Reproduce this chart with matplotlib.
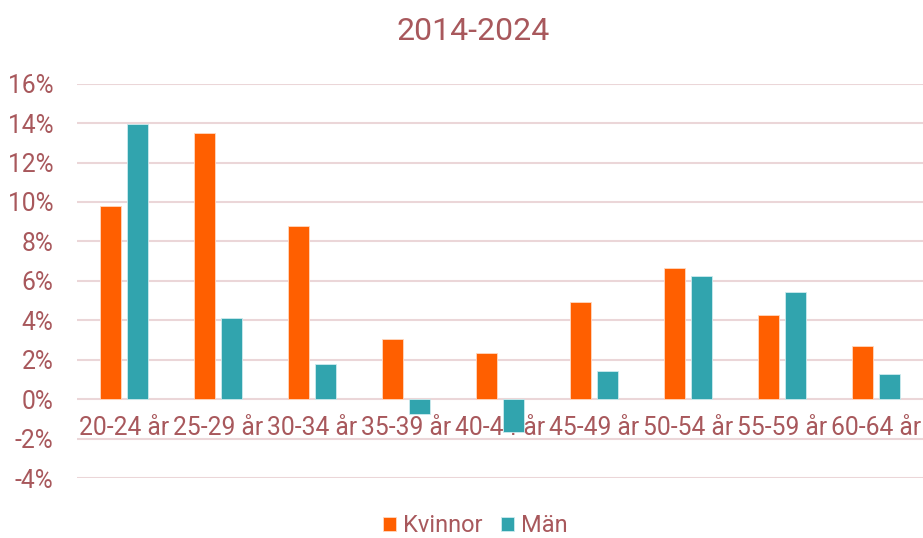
import numpy as np
import matplotlib.pyplot as plt
from matplotlib.ticker import FuncFormatter

plt.rcParams['font.family'] = ['Roboto', 'DejaVu Sans']

# age groups and change 2014-2024 (fractions)
groups = ['20-24 år', '25-29 år', '30-34 år', '35-39 år', '40-44 år',
          '45-49 år', '50-54 år', '55-59 år', '60-64 år']
kvinnor = [0.098, 0.135, 0.088, 0.0305, 0.0232, 0.0491, 0.0663, 0.0426, 0.0268]
man = [0.1394, 0.0411, 0.0178, -0.0076, -0.0168, 0.0144, 0.0623, 0.0542, 0.0127]

txt = '#A8585C'
c_k = '#FF5F00'
c_m = '#31A4AE'

fig = plt.figure(figsize=(9.23, 5.38), dpi=100)
ax = fig.add_axes([77/923, 1-478/538, 1-77/923, (478-83.7)/538])

x = np.arange(len(groups))
w = 0.225
ax.bar(x - 0.143, kvinnor, w, color=c_k, edgecolor='#FFD9C0', linewidth=0.6, label='Kvinnor', zorder=3)
ax.bar(x + 0.143, man, w, color=c_m, edgecolor='#CDEBEE', linewidth=0.6, label='Män', zorder=3)

ax.set_xlim(-0.5, len(groups) - 0.5)
ax.set_ylim(-0.04, 0.16)
ax.set_yticks(np.arange(-0.04, 0.161, 0.02))
ax.yaxis.set_major_formatter(FuncFormatter(lambda v, p: f'{v*100:.0f}%'))
ax.grid(axis='y', color='#EBD6D8', linewidth=1.5, zorder=0)
for s in ax.spines.values():
    s.set_visible(False)

ax.spines['bottom'].set_position(('data', 0))
ax.set_xticks(x)
ax.set_xticklabels(groups)
ax.tick_params(axis='x', length=0, pad=12, labelsize=17.7, labelcolor=txt)
ax.tick_params(axis='y', length=0, pad=17, labelsize=17.7, labelcolor=txt)
for lab in ax.get_yticklabels():
    lab.set_horizontalalignment('right')

fig.text(0.513, 1-32/538, '2014-2024', ha='center', va='center', fontsize=23, color=txt)

leg = fig.legend(loc='center', bbox_to_anchor=(0.515, 1-526/538), ncol=2, frameon=False,
                 fontsize=17, handlelength=0.55, handleheight=0.55, handletextpad=0.3,
                 columnspacing=0.8, borderpad=0.1)
for t in leg.get_texts():
    t.set_color(txt)

fig.savefig('out.png', dpi=100)
